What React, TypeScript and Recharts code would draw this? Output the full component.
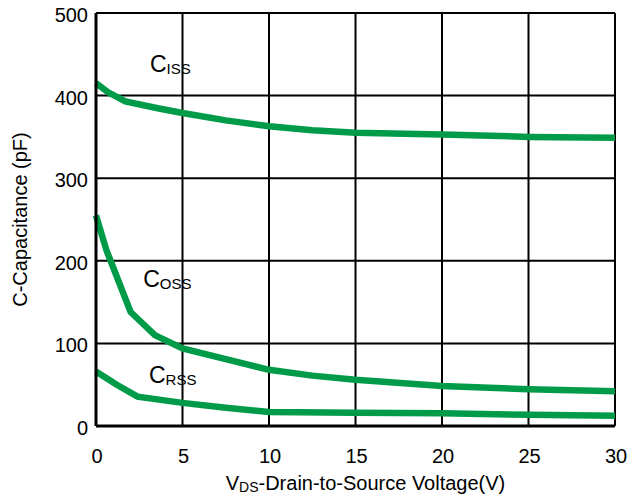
import React from "react";
import { LineChart, Line, XAxis, YAxis, CartesianGrid, ReferenceDot } from "recharts";

const xTicks = [0, 5, 10, 15, 20, 25, 30];
const yTicks = [0, 100, 200, 300, 400, 500];

const cissV = [0, 0.7, 1.7, 3.5, 5, 7.5, 10, 12.5, 15, 20, 25, 30];
const cissC = [415, 404, 393, 385, 379, 370, 363, 358, 355, 353, 350, 349];

const cossV = [0, 0.6, 2, 3.4, 5, 7.5, 10, 12.5, 15, 20, 25, 30];
const cossC = [255, 213, 138, 110, 94, 81, 68, 61, 56, 48.5, 44.5, 42];

const crssV = [0, 1.2, 2.4, 5, 7.5, 10, 15, 20, 25, 30];
const crssC = [66, 50, 35.5, 28, 22, 17, 16, 15.3, 13.5, 12.5];

const labels = [
  { name: "ISS", v: 3.12, c: 429 },
  { name: "OSS", v: 2.73, c: 168.6 },
  { name: "RSS", v: 3.06, c: 51.7 },
];

const toData = (vs: number[], cs: number[]) => vs.map((v, i) => ({ v, c: cs[i] }));

const FONT = "'Liberation Sans', Arial, Helvetica, sans-serif";
const GREEN = "#009B48";

const XTick = (props: any) => {
  const { x, y, payload } = props;
  return (
    <text x={x + 1} y={y + 37} textAnchor="middle" fontSize={20} fontFamily={FONT} fill="#000">
      {payload.value}
    </text>
  );
};

const YTick = (props: any) => {
  const { x, y, payload } = props;
  return (
    <text x={x} y={y + 9} textAnchor="end" fontSize={20} fontFamily={FONT} fill="#000">
      {payload.value}
    </text>
  );
};

const XLabel = (props: any) => {
  const vb = props.viewBox;
  return (
    <text x={vb.x + vb.width / 2 + 10} y={vb.y + 64} textAnchor="middle" fontSize={20} fontFamily={FONT} fill="#000">
      <tspan>V</tspan>
      <tspan fontSize={14} dy={2}>DS</tspan>
      <tspan dy={-2}>-Drain-to-Source Voltage(V)</tspan>
    </text>
  );
};

const YLabel = (props: any) => {
  const vb = props.viewBox;
  const cx = 20;
  const cy = vb.y + vb.height / 2;
  return (
    <text
      x={cx}
      y={cy}
      transform={`rotate(-90 ${cx} ${cy})`}
      textAnchor="middle"
      dominantBaseline="central"
      fontSize={20}
      fontFamily={FONT}
      fill="#000"
    >
      C-Capacitance (pF)
    </text>
  );
};

const makeShape = (sub: string) => (p: any) => (
  <text x={p.cx} y={p.cy} fontSize={23} fontFamily={FONT} fill="#000">
    <tspan>C</tspan>
    <tspan fontSize={15} dy={2}>{sub}</tspan>
  </text>
);

export default function App() {
  return (
    <div style={{ position: "absolute", left: 0, top: 0, background: "#fff" }}>
      <LineChart width={627} height={497} margin={{ top: 13, right: 12, bottom: 0, left: 0 }}>
        <CartesianGrid stroke="#000" strokeWidth={2} />
        <XAxis
          type="number"
          dataKey="v"
          domain={[0, 30]}
          ticks={xTicks}
          height={71}
          tickSize={0}
          tickMargin={0}
          tickLine={false}
          axisLine={{ stroke: "#000", strokeWidth: 3 }}
          tick={<XTick />}
          label={<XLabel />}
        />
        <YAxis
          type="number"
          domain={[0, 500]}
          ticks={yTicks}
          width={96}
          tickSize={0}
          tickMargin={8}
          tickLine={false}
          axisLine={{ stroke: "#000", strokeWidth: 3 }}
          tick={<YTick />}
          label={<YLabel />}
        />
        <Line data={toData(cissV, cissC)} dataKey="c" type="linear" stroke={GREEN} strokeWidth={6.5} dot={false} isAnimationActive={false} />
        <Line data={toData(cossV, cossC)} dataKey="c" type="linear" stroke={GREEN} strokeWidth={6.5} dot={false} isAnimationActive={false} />
        <Line data={toData(crssV, crssC)} dataKey="c" type="linear" stroke={GREEN} strokeWidth={6.5} dot={false} isAnimationActive={false} />
        {labels.map((l) => (
          <ReferenceDot key={l.name} x={l.v} y={l.c} r={0} shape={makeShape(l.name)} />
        ))}
      </LineChart>
    </div>
  );
}
